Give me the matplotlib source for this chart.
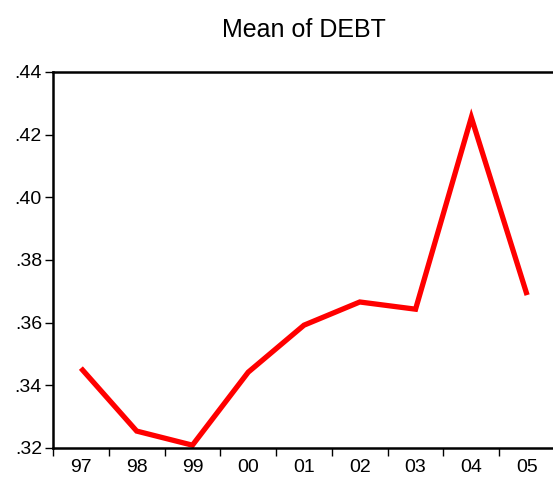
import numpy as np
import matplotlib.pyplot as plt

years = ["97", "98", "99", "00", "01", "02", "03", "04", "05"]
mean_debt = [0.3455, 0.3254, 0.3209, 0.3442, 0.3592, 0.3666, 0.3643, 0.4255, 0.3688]
y_ticks = [0.32, 0.34, 0.36, 0.38, 0.40, 0.42, 0.44]
y_labels = [".32", ".34", ".36", ".38", ".40", ".42", ".44"]

plt.rcParams['font.family'] = ['Liberation Sans', 'DejaVu Sans']

fig = plt.figure(figsize=(5.53, 4.80), dpi=100)
ax = fig.add_axes([53 / 553, 1 - 448 / 480, 502 / 553, 376 / 480])

x = np.arange(len(years)) + 0.5
ax.plot(x, mean_debt, color="#ff0000", lw=3.8, solid_joinstyle="miter", solid_capstyle="butt")

ax.set_xlim(0, len(years))
ax.set_ylim(0.32, 0.44)

ax.set_yticks(y_ticks)
ax.set_yticklabels(y_labels, fontsize=14)
ax.set_xticks(x)
ax.set_xticklabels(years, fontsize=14)
ax.set_xticks(np.arange(len(years) + 1), minor=True)

ax.tick_params(axis="y", direction="out", length=6, width=1, pad=2)
ax.tick_params(axis="x", which="major", length=0, pad=8)
ax.tick_params(axis="x", which="minor", direction="out", length=6, width=1)

for side in ["left", "top", "bottom"]:
    ax.spines[side].set_linewidth(1.8)
ax.spines["right"].set_visible(False)

ax.set_title("Mean of DEBT", fontsize=18, pad=25)

fig.savefig("out.png", dpi=100)
